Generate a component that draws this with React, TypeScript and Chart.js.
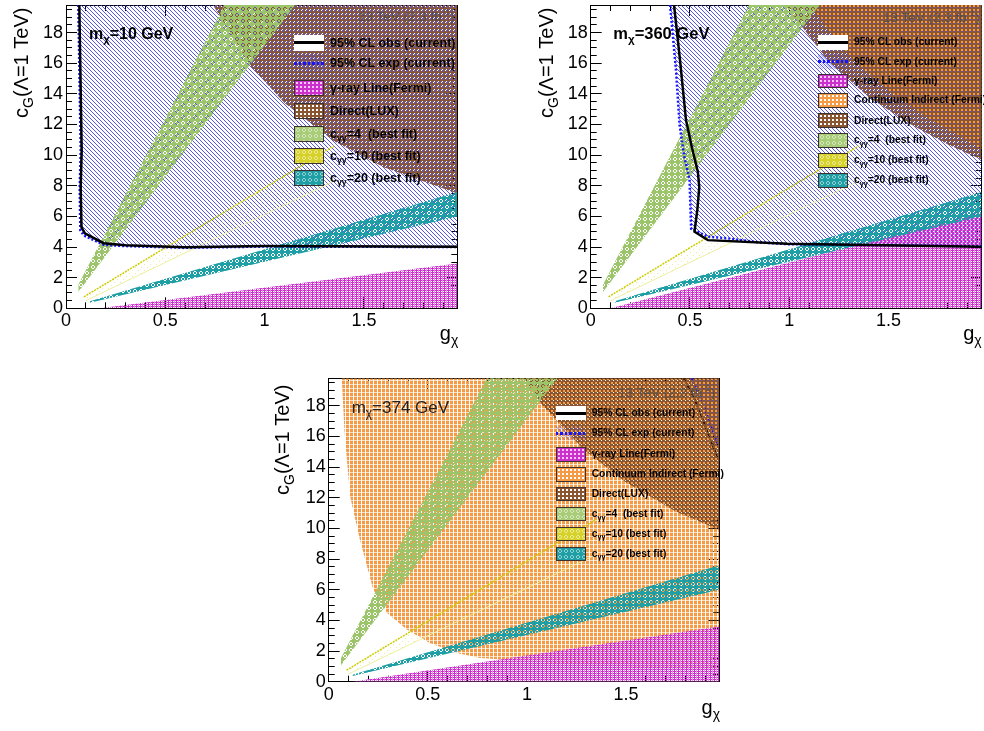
import React, { useEffect, useRef } from "react";
import { Chart, registerables } from "chart.js";

Chart.register(...registerables);

// ---------------- axes ----------------
const X_MAX = 1.97;
const Y_MAX = 19.8;
const xTickValues = [0, 0.5, 1, 1.5];
const xTickLabels = ["0", "0.5", "1", "1.5"];
const yTickValues = [0, 2, 4, 6, 8, 10, 12, 14, 16, 18];
const yTickLabels = ["0", "2", "4", "6", "8", "10", "12", "14", "16", "18"];
const X_MINOR_STEP = 0.1;
const Y_MINOR_STEP = 0.5;

// ---------------- shared best-fit bands (g, c) ----------------
const c4UpG = [0.062, 1.2];
const c4UpC = [1.54, 29.8];
const c4LoG = [0.062, 1.2];
const c4LoC = [1.07, 20.6];
const c10UpG = [0.09, 1.35];
const c10UpC = [0.75, 10.6];
const c10LoG = [0.1, 1.35];
const c10LoC = [0.5, 8.3];
const c20UpG = [0.12, 1.97];
const c20UpC = [0.46, 7.6];
const c20LoG = [0.12, 1.97];
const c20LoC = [0.37, 6.0];

// ---------------- panel 1 : m = 10 GeV ----------------
const p1ObsG = [0.067, 0.079, 0.074, 0.078, 0.095, 0.19, 0.3, 0.6, 1.0, 1.97];
const p1ObsC = [19.8, 10.3, 7.9, 5.3, 4.9, 4.25, 4.12, 3.98, 4.07, 4.02];
const p1ExpG = [0.062, 0.074, 0.069, 0.072, 0.09, 0.19, 0.3, 0.6, 1.0, 1.97];
const p1ExpC = [19.8, 10.3, 7.9, 5.1, 4.75, 4.15, 4.06, 3.95, 4.03, 4.0];
const p1LuxG = [0.74, 0.93, 1.1, 1.35, 1.6, 1.97];
const p1LuxC = [19.8, 15.8, 13.4, 10.9, 9.2, 7.5];
const p1FermiG = [0.17, 1.97];
const p1FermiC = [0, 2.93];

// ---------------- panel 2 : m = 360 GeV ----------------
const p2ObsG = [0.42, 0.45, 0.48, 0.51, 0.54, 0.547, 0.537, 0.523, 0.59, 0.99, 1.97];
const p2ObsC = [19.8, 16.2, 12.3, 10.5, 8.9, 7.9, 6.4, 5.0, 4.45, 4.22, 4.02];
const p2ExpG = [0.4, 0.43, 0.448, 0.47, 0.498, 0.506, 0.59, 0.69, 0.85, 1.0, 1.97];
const p2ExpC = [19.8, 15.5, 11.95, 10.0, 8.4, 5.2, 4.67, 4.57, 4.3, 4.18, 4.05];
const p2LuxG = [0.98, 1.2, 1.4, 1.6, 1.8, 1.97];
const p2LuxC = [19.8, 16.1, 13.8, 12.1, 10.7, 9.7];
const p2ContG = [1.1, 1.3, 1.5, 1.7, 1.97];
const p2ContC = [19.8, 16.5, 14.2, 12.4, 10.4];
const p2FermiG = [0.1, 1.97];
const p2FermiC = [0, 6.2];

// ---------------- panel 3 : m = 374 GeV ----------------
const p3ObsG = [1.79, 1.84, 1.89, 1.93, 1.97];
const p3ObsC = [19.8, 18.6, 17.0, 15.6, 14.4];
const p3ExpG = [1.83, 1.88, 1.93, 1.97];
const p3ExpC = [19.8, 18.4, 16.6, 15.2];
const p3LuxG = [0.985, 1.08, 1.29, 1.5, 1.75, 1.97];
const p3LuxC = [19.8, 18.0, 15.1, 13.0, 11.1, 9.9];
const p3ContG = [0.066, 0.08, 0.108, 0.157, 0.225, 0.293, 0.394, 0.51, 0.646, 0.764, 1.017, 1.28, 1.6, 1.97];
const p3ContC = [19.8, 16.3, 12.1, 9.3, 6.0, 4.5, 3.4, 2.53, 1.87, 1.54, 1.32, 1.1, 0.95, 0.8];
const p3FermiG = [0.12, 1.97];
const p3FermiC = [0, 3.6];

// ---------------- texts ----------------
const massLabels = ["m_{χ}=10 GeV", "m_{χ}=360 GeV", "m_{χ}=374 GeV"];
const lumiText = "13 TeV (2.3 fb^{-1})";
const yTitle = "c_{G}(Λ=1 TeV)";
const xTitle = "g_{χ}";
const legendLabels1 = [
  "95% CL obs (current)",
  "95% CL exp (current)",
  "γ-ray Line(Fermi)",
  "Direct(LUX)",
  "c_{γγ}=4  (best fit)",
  "c_{γγ}=10 (best fit)",
  "c_{γγ}=20 (best fit)",
];
const legendKinds1 = ["obs", "exp", "mag", "lux", "green", "yellowLeg", "cyan"];
const legendLabels23 = [
  "95% CL obs (current)",
  "95% CL exp (current)",
  "γ-ray Line(Fermi)",
  "Continuum Indirect (Fermi)",
  "Direct(LUX)",
  "c_{γγ}=4  (best fit)",
  "c_{γγ}=10 (best fit)",
  "c_{γγ}=20 (best fit)",
];
const legendKinds23 = ["obs", "exp", "mag", "cont", "lux", "green", "yellowLeg", "cyan"];

const FONT = "'Liberation Sans', Arial, Helvetica, sans-serif";

// ---------------- fill patterns ----------------
function makeTile(w: number, h: number, paint: (ctx: CanvasRenderingContext2D) => void) {
  const c = document.createElement("canvas");
  c.width = w;
  c.height = h;
  const ctx = c.getContext("2d") as CanvasRenderingContext2D;
  paint(ctx);
  return c;
}
function dot(ctx: CanvasRenderingContext2D, x: number, y: number, col: string) {
  ctx.fillStyle = col;
  ctx.fillRect(x, y, 1, 1);
}
const ring = [
  [2, 1], [3, 1], [1, 2], [4, 2], [1, 3], [4, 3], [2, 4], [3, 4],
];
const TILES: Record<string, HTMLCanvasElement> = {
  hatch: makeTile(4, 4, (ctx) => {
    for (let i = 0; i < 4; i++) {
      dot(ctx, i, i, "rgba(55,55,230,0.85)");
    }
  }),
  lux: makeTile(4, 4, (ctx) => {
    ctx.fillStyle = "#8a5632";
    ctx.fillRect(0, 0, 4, 4);
    ctx.clearRect(1, 1, 2, 2);
    ctx.clearRect(3, 3, 1, 1);
  }),
  cont: makeTile(4, 4, (ctx) => {
    ctx.fillStyle = "#f59b46";
    ctx.fillRect(0, 0, 3, 3);
    ctx.fillStyle = "rgba(245,155,70,0.35)";
    ctx.fillRect(0, 3, 3, 1);
  }),
  green: makeTile(6, 6, (ctx) => {
    ctx.fillStyle = "#9cc46a";
    ctx.fillRect(0, 0, 6, 6);
    ring.forEach(([x, y]) => ctx.clearRect(x, y, 1, 1));
  }),
  cyan: makeTile(6, 6, (ctx) => {
    ctx.fillStyle = "#1e9fa6";
    ctx.fillRect(0, 0, 6, 6);
    ring.forEach(([x, y]) => ctx.clearRect(x, y, 1, 1));
  }),
  mag: makeTile(4, 4, (ctx) => {
    ctx.fillStyle = "#cc30cc";
    ctx.fillRect(0, 0, 4, 4);
    ctx.clearRect(1, 1, 1, 1);
    ctx.clearRect(3, 1, 1, 1);
    ctx.clearRect(1, 3, 1, 1);
    ctx.clearRect(3, 3, 1, 1);
    ctx.fillStyle = "rgba(235,150,235,0.9)";
    ctx.fillRect(2, 0, 1, 4);
  }),
  yellow: makeTile(6, 6, (ctx) => {
    dot(ctx, 0, 0, "rgba(220,220,60,0.5)");
    dot(ctx, 3, 3, "rgba(220,220,60,0.5)");
  }),
};

// CSS backgrounds for legend swatches
const SWATCH_BG: Record<string, React.CSSProperties> = {
  mag: {
    backgroundColor: "#cc30cc",
    backgroundImage: "radial-gradient(circle, rgba(255,210,255,0.95) 0.9px, rgba(255,255,255,0) 1.3px)",
    backgroundSize: "4px 4px",
  },
  lux: {
    backgroundColor: "#8a5632",
    backgroundImage: "radial-gradient(circle, #ffffff 1px, rgba(255,255,255,0) 1.5px)",
    backgroundSize: "4px 4px",
  },
  cont: {
    backgroundColor: "#f59b46",
    backgroundImage: "radial-gradient(circle, #ffffff 1px, rgba(255,255,255,0) 1.5px)",
    backgroundSize: "4px 4px",
  },
  green: {
    backgroundColor: "#a8cc78",
    backgroundImage: "radial-gradient(circle, rgba(255,255,255,0) 0.8px, #ffffff 1.2px, rgba(255,255,255,0) 2px)",
    backgroundSize: "6px 6px",
  },
  yellowLeg: {
    backgroundColor: "#d6d22a",
    backgroundImage: "radial-gradient(circle, rgba(255,255,255,0) 0.8px, #ffffff 1.2px, rgba(255,255,255,0) 2px)",
    backgroundSize: "6px 6px",
  },
  cyan: {
    backgroundColor: "#1e9fa6",
    backgroundImage: "radial-gradient(circle, rgba(255,255,255,0) 0.8px, #ffffff 1.2px, rgba(255,255,255,0) 2px)",
    backgroundSize: "6px 6px",
  },
};

// ---------------- panel layout specs ----------------
type Series = { g: number[]; c: number[] };
interface PanelSpec {
  left: number;
  top: number;
  W: number;
  H: number;
  area: { l: number; r: number; t: number; b: number };
  obs: Series;
  exp: Series;
  lux: Series;
  cont?: Series;
  fermi: Series;
  linesUnderLux?: boolean;
}

const PANELS: PanelSpec[] = [
  {
    left: 0, top: 0, W: 492, H: 360,
    area: { l: 66, r: 457.3, t: 5, b: 308.3 },
    obs: { g: p1ObsG, c: p1ObsC },
    exp: { g: p1ExpG, c: p1ExpC },
    lux: { g: p1LuxG, c: p1LuxC },
    fermi: { g: p1FermiG, c: p1FermiC },
  },
  {
    left: 492, top: 0, W: 492, H: 360,
    area: { l: 98.7, r: 489.7, t: 5, b: 308.3 },
    obs: { g: p2ObsG, c: p2ObsC },
    exp: { g: p2ExpG, c: p2ExpC },
    lux: { g: p2LuxG, c: p2LuxC },
    cont: { g: p2ContG, c: p2ContC },
    fermi: { g: p2FermiG, c: p2FermiC },
  },
  {
    left: 246, top: 365, W: 492, H: 366,
    area: { l: 82.7, r: 473.3, t: 13.3, b: 316.7 },
    obs: { g: p3ObsG, c: p3ObsC },
    exp: { g: p3ExpG, c: p3ExpC },
    lux: { g: p3LuxG, c: p3LuxC },
    cont: { g: p3ContG, c: p3ContC },
    fermi: { g: p3FermiG, c: p3FermiC },
    linesUnderLux: true,
  },
];

const pts = (g: number[], c: number[]) => g.map((x, i) => ({ x, y: c[i] }));

function buildDatasets(s: PanelSpec, P: Record<string, CanvasPattern | string>) {
  const base = {
    xAxisID: "x",
    yAxisID: "y",
    pointRadius: 0,
    pointHoverRadius: 0,
    tension: 0,
    borderWidth: 0,
    borderColor: "rgba(0,0,0,0)",
    backgroundColor: "rgba(0,0,0,0)",
    fill: false as any,
  };
  const lineOrder = s.linesUnderLux ? 6.5 : 0;
  const ds: any[] = [];
  ds.push({ ...base, label: "obs", data: pts(s.obs.g, s.obs.c), borderColor: s.linesUnderLux ? "#2a1a10" : "#000", borderWidth: s.linesUnderLux ? 2 : 2.5, order: lineOrder });
  ds.push({ ...base, label: "exp", data: pts(s.exp.g, s.exp.c), borderColor: "#1414ff", borderWidth: 2.5, borderDash: [2, 2], order: lineOrder + 0.1 });
  ds.push({ ...base, label: "c4", data: pts(c4UpG, c4UpC), backgroundColor: P.green, fill: "+1", order: 2 });
  ds.push({ ...base, label: "c4lo", data: pts(c4LoG, c4LoC), order: 2 });
  ds.push({ ...base, label: "c10", data: pts(c10UpG, c10UpC), backgroundColor: P.yellow, fill: "+1", borderColor: "#cccc00", borderWidth: 1.5, borderDash: [2, 1], order: 3 });
  ds.push({ ...base, label: "c10lo", data: pts(c10LoG, c10LoC), borderColor: "#eeeea0", borderWidth: 1, order: 3 });
  ds.push({ ...base, label: "c20", data: pts(c20UpG, c20UpC), backgroundColor: P.cyan, fill: "+1", order: 4 });
  ds.push({ ...base, label: "c20lo", data: pts(c20LoG, c20LoC), order: 4 });
  ds.push({ ...base, label: "fermi", data: pts(s.fermi.g, s.fermi.c), backgroundColor: P.mag, fill: "origin", order: 5 });
  ds.push({ ...base, label: "lux", data: pts(s.lux.g, s.lux.c), backgroundColor: P.lux, fill: "end", order: 6 });
  if (s.cont) ds.push({ ...base, label: "cont", data: pts(s.cont.g, s.cont.c), backgroundColor: P.cont, fill: "end", order: 7 });
  ds.push({ ...base, label: "hatch", data: pts(s.exp.g, s.exp.c), backgroundColor: P.hatch, fill: "end", order: 8 });
  return ds;
}

function buildScales(s: PanelSpec) {
  const { l, r, t, b } = s.area;
  const font = { family: FONT, size: 18 };
  const zeroPad = (sc: any) => {
    sc.paddingLeft = 0;
    sc.paddingRight = 0;
    sc.paddingTop = 0;
    sc.paddingBottom = 0;
  };
  const grid = (len: number) => ({
    drawOnChartArea: false,
    drawTicks: true,
    tickLength: -len,
    color: "#000",
    tickColor: "#000",
    lineWidth: 1,
    tickWidth: 1,
  });
  const xMajor = (sc: any) => {
    sc.ticks = xTickValues.map((v) => ({ value: v }));
  };
  const yMajor = (sc: any) => {
    sc.ticks = yTickValues.map((v) => ({ value: v }));
  };
  const xr = { type: "linear", axis: "x", min: 0, max: X_MAX };
  const yr = { type: "linear", axis: "y", min: 0, max: Y_MAX };
  return {
    x: {
      ...xr, position: "bottom", weight: 1,
      afterBuildTicks: xMajor,
      ticks: { display: true, font, color: "#000", padding: 13.4, maxRotation: 0, minRotation: 0, autoSkip: false, callback: (_v: any, i: number) => xTickLabels[i] },
      grid: grid(11),
      border: { display: true, color: "#000", width: 1 },
      afterFit: (sc: any) => { sc.height = s.H - b; zeroPad(sc); },
    },
    xm: {
      ...xr, position: "bottom", weight: 0,
      ticks: { display: false, stepSize: X_MINOR_STEP, includeBounds: false },
      grid: grid(6),
      border: { display: false },
      afterFit: (sc: any) => { sc.height = 0; zeroPad(sc); },
    },
    xt: {
      ...xr, position: "top", weight: 1,
      afterBuildTicks: xMajor,
      ticks: { display: false },
      grid: grid(11),
      border: { display: true, color: "#000", width: 1 },
      afterFit: (sc: any) => { sc.height = t; zeroPad(sc); },
    },
    xtm: {
      ...xr, position: "top", weight: 0,
      ticks: { display: false, stepSize: X_MINOR_STEP, includeBounds: false },
      grid: grid(6),
      border: { display: false },
      afterFit: (sc: any) => { sc.height = 0; zeroPad(sc); },
    },
    y: {
      ...yr, position: "left", weight: 1,
      afterBuildTicks: yMajor,
      ticks: { display: true, font, color: "#000", padding: 14, autoSkip: false, callback: (_v: any, i: number) => yTickLabels[i] },
      grid: grid(11),
      border: { display: true, color: "#000", width: 1 },
      afterFit: (sc: any) => { sc.width = l; zeroPad(sc); },
    },
    ym: {
      ...yr, position: "left", weight: 0,
      ticks: { display: false, stepSize: Y_MINOR_STEP, includeBounds: false },
      grid: grid(6),
      border: { display: false },
      afterFit: (sc: any) => { sc.width = 0; zeroPad(sc); },
    },
    yr: {
      ...yr, position: "right", weight: 1,
      afterBuildTicks: yMajor,
      ticks: { display: false },
      grid: grid(11),
      border: { display: true, color: "#000", width: 1 },
      afterFit: (sc: any) => { sc.width = s.W - r; zeroPad(sc); },
    },
    yrm: {
      ...yr, position: "right", weight: 0,
      ticks: { display: false, stepSize: Y_MINOR_STEP, includeBounds: false },
      grid: grid(6),
      border: { display: false },
      afterFit: (sc: any) => { sc.width = 0; zeroPad(sc); },
    },
  };
}

function PanelChart({ spec }: { spec: PanelSpec }) {
  const ref = useRef<HTMLCanvasElement>(null);
  useEffect(() => {
    const canvas = ref.current as HTMLCanvasElement;
    const ctx = canvas.getContext("2d") as CanvasRenderingContext2D;
    const P: Record<string, CanvasPattern | string> = {};
    Object.keys(TILES).forEach((k) => {
      P[k] = ctx.createPattern(TILES[k], "repeat") as CanvasPattern;
    });
    const chart = new Chart(canvas, {
      type: "line",
      data: { datasets: buildDatasets(spec, P) },
      options: {
        animation: false,
        responsive: false,
        maintainAspectRatio: false,
        devicePixelRatio: 1,
        events: [],
        layout: { padding: 0 },
        plugins: { legend: { display: false }, tooltip: { enabled: false }, title: { display: false } },
        scales: buildScales(spec) as any,
      } as any,
    });
    return () => chart.destroy();
  }, []);
  return (
    <canvas
      ref={ref}
      width={spec.W}
      height={spec.H}
      style={{ position: "absolute", left: spec.left, top: spec.top, width: spec.W, height: spec.H }}
    />
  );
}

// ---------------- text helpers ----------------
function Tex({ s }: { s: string }) {
  const out: React.ReactNode[] = [];
  let i = 0;
  let buf = "";
  let k = 0;
  while (i < s.length) {
    const ch = s[i];
    if ((ch === "_" || ch === "^") && s[i + 1] === "{") {
      if (buf) {
        out.push(buf);
        buf = "";
      }
      const end = s.indexOf("}", i);
      const inner = s.slice(i + 2, end);
      out.push(
        <span key={k++} style={{ fontSize: "70%", position: "relative", top: ch === "_" ? "0.35em" : "-0.6em" }}>
          {inner}
        </span>
      );
      i = end + 1;
    } else {
      buf += ch;
      i++;
    }
  }
  if (buf) out.push(buf);
  return <>{out}</>;
}

function Txt(props: { x: number; baseline: number; size: number; text: string; bold?: boolean; color?: string; z?: number }) {
  const { x, baseline, size, text, bold, color, z } = props;
  return (
    <div
      style={{
        position: "absolute",
        left: x,
        top: baseline - 0.8465 * size,
        fontFamily: FONT,
        fontSize: size,
        lineHeight: `${size}px`,
        fontWeight: bold ? "bold" : "normal",
        color: color || "#000",
        whiteSpace: "pre",
        zIndex: z || 1,
      }}
    >
      <Tex s={text} />
    </div>
  );
}

function YTitle({ x, y, size }: { x: number; y: number; size: number }) {
  return (
    <div
      style={{
        position: "absolute",
        left: x,
        top: y,
        fontFamily: FONT,
        fontSize: size,
        lineHeight: `${size}px`,
        whiteSpace: "pre",
        transform: "rotate(-90deg)",
        transformOrigin: "0 0",
      }}
    >
      <Tex s={yTitle} />
    </div>
  );
}

function XTitle({ right, baseline, size }: { right: number; baseline: number; size: number }) {
  return (
    <div
      style={{
        position: "absolute",
        left: right - 60,
        width: 60,
        textAlign: "right",
        top: baseline - 0.8465 * size,
        fontFamily: FONT,
        fontSize: size,
        lineHeight: `${size}px`,
        whiteSpace: "pre",
      }}
    >
      <Tex s={xTitle} />
    </div>
  );
}

function Swatch({ kind, x, cy, w, h }: { kind: string; x: number; cy: number; w: number; h: number }) {
  if (kind === "obs") {
    return (
      <div style={{ position: "absolute", left: x, top: cy - h / 2, width: w, height: h, background: "#fff", zIndex: 1 }}>
        <div style={{ position: "absolute", left: 0, top: h / 2 - 1.5, width: w, height: 3, background: "#000" }} />
      </div>
    );
  }
  if (kind === "exp") {
    return (
      <div style={{ position: "absolute", left: x, top: cy - h / 2, width: w, height: h, zIndex: 1 }}>
        <div
          style={{
            position: "absolute",
            left: 0,
            top: 0,
            width: w,
            height: h,
            backgroundImage: "repeating-linear-gradient(45deg, rgba(70,70,230,0.35) 0px, rgba(70,70,230,0.35) 1px, rgba(0,0,0,0) 1px, rgba(0,0,0,0) 3px)",
          }}
        />
        <div
          style={{
            position: "absolute",
            left: 0,
            top: h / 2 - 1.25,
            width: w,
            height: 2.5,
            backgroundImage: "repeating-linear-gradient(to right, #1414ff 0px, #1414ff 2.5px, rgba(0,0,0,0) 2.5px, rgba(0,0,0,0) 4.5px)",
          }}
        />
      </div>
    );
  }
  return (
    <div
      style={{
        position: "absolute",
        left: x,
        top: cy - h / 2,
        width: w - 2,
        height: h - 2,
        border: "1px solid #3a3030",
        zIndex: 1,
        ...SWATCH_BG[kind],
      }}
    />
  );
}

function Legend(props: {
  labels: string[];
  kinds: string[];
  rows: number[];
  swX: number;
  swW: number;
  swH: number;
  textX: number;
  size: number;
}) {
  const { labels, kinds, rows, swX, swW, swH, textX, size } = props;
  return (
    <>
      {labels.map((lab, i) => (
        <React.Fragment key={i}>
          <Swatch kind={kinds[i]} x={swX} cy={rows[i]} w={swW} h={swH} />
          <Txt x={textX} baseline={rows[i] + 0.36 * size} size={size} text={lab} bold />
        </React.Fragment>
      ))}
    </>
  );
}

const LUMI_COLOR = "rgba(75,75,75,0.85)";

export default function App() {
  return (
    <div style={{ position: "absolute", left: 0, top: 0, width: 984, height: 731, overflow: "hidden", background: "#fff" }}>
      {PANELS.map((p, i) => (
        <PanelChart key={i} spec={p} />
      ))}

      {/* panel 1 */}
      <Txt x={358} baseline={21} size={13.5} text={lumiText} color={LUMI_COLOR} z={2} />
      <Txt x={89} baseline={39.5} size={16} text={massLabels[0]} bold />
      <Legend labels={legendLabels1} kinds={legendKinds1} rows={[42.7, 63.3, 88, 110.7, 133.8, 156.2, 178.3]} swX={294} swW={30} swH={16} textX={330} size={12.5} />
      <YTitle x={10.7} y={118.3} size={20} />
      <XTitle right={458.3} baseline={340.4} size={20} />

      {/* panel 2 */}
      <Txt x={883} baseline={22.5} size={13.5} text={lumiText} color={LUMI_COLOR} z={2} />
      <Txt x={613.3} baseline={39.3} size={16.5} text={massLabels[1]} bold />
      <Legend labels={legendLabels23} kinds={legendKinds23} rows={[42.3, 61.7, 80.8, 100.3, 120.7, 140.3, 160.3, 180.3]} swX={818.3} swW={30} swH={14.5} textX={854} size={10.3} />
      <YTitle x={535.7} y={118.3} size={20} />
      <XTitle right={981.7} baseline={340.4} size={20} />

      {/* panel 3 */}
      <Txt x={618.3} baseline={397.5} size={13.5} text={lumiText} color={LUMI_COLOR} z={2} />
      <Txt x={351.7} baseline={413} size={17} text={massLabels[2]} color="#222" />
      <Legend labels={legendLabels23} kinds={legendKinds23} rows={[413.3, 433.3, 454.5, 474.5, 494.2, 514.2, 533.7, 553.7]} swX={556} swW={30} swH={14.3} textX={591.7} size={10.3} />
      <YTitle x={272.4} y={495} size={20} />
      <XTitle right={720} baseline={713.7} size={20} />
    </div>
  );
}
